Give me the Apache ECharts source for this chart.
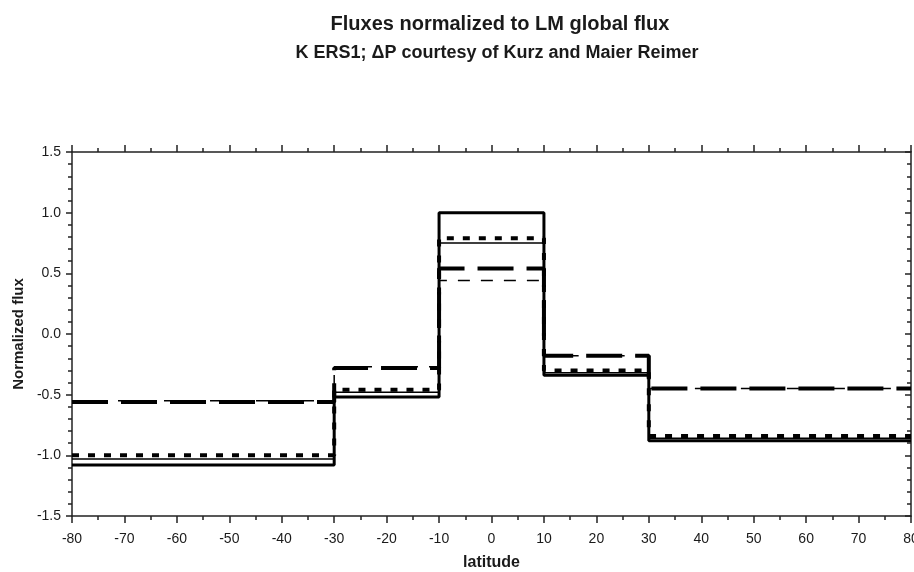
<!DOCTYPE html>
<html>
<head>
<meta charset="utf-8">
<script src="https://cdn.jsdelivr.net/npm/echarts@6/dist/echarts.min.js"></script>
<style>
  html, body { margin: 0; padding: 0; background: #fff; }
  #main { width: 914px; height: 572px; }
</style>
</head>
<body>
<div id="main"></div>
<script>
// latitude band edges, one value per band
var latEdges = [-80, -30, -10, 10, 30, 80];

var solidThick  = [-1.08, -0.52, 1.00, -0.34, -0.88];
var solidThin   = [-1.03, -0.48, 0.75, -0.32, -0.86];
var dottedThick = [-1.00, -0.46, 0.79, -0.30, -0.84];
var longDash    = [-0.56, -0.28, 0.54, -0.18, -0.45];
var shortDash   = [-0.55, -0.27, 0.44, -0.18, -0.45];

var xTicks = [-80, -70, -60, -50, -40, -30, -20, -10, 0, 10, 20, 30, 40, 50, 60, 70, 80];
var yTicks = [-1.5, -1.0, -0.5, 0.0, 0.5, 1.0, 1.5];

// step data: value of band i holds from edge i to edge i+1
function bands(vals) {
    var pts = [];
    for (var i = 0; i < vals.length; i++) {
        pts.push([latEdges[i], vals[i]]);
    }
    pts.push([latEdges[latEdges.length - 1], vals[vals.length - 1]]);
    return pts;
}

function stepSeries(name, vals, width, type) {
    return {
        name: name,
        type: 'line',
        step: 'end',
        showSymbol: false,
        silent: true,
        data: bands(vals),
        lineStyle: { color: '#000', width: width, type: type, cap: 'butt' }
    };
}

var font = '"Liberation Sans", Arial, sans-serif';
var axisColor = '#222';

function frameAxis(extra) {
    var ax = {
        type: 'value',
        axisLine: { show: true, onZero: false, lineStyle: { color: axisColor, width: 1.5 } },
        axisTick: { show: true, inside: false, length: 7, lineStyle: { color: axisColor, width: 1.5 } },
        axisLabel: { show: false },
        splitLine: { show: false }
    };
    for (var k in extra) ax[k] = extra[k];
    return ax;
}

var myChart = echarts.init(document.getElementById('main'));

var option = {
    backgroundColor: '#fff',
    animation: false,
    title: [{
        text: 'Fluxes normalized to LM global flux',
        left: 495,
        top: 9,
        textAlign: 'center',
        textStyle: { fontFamily: font, fontSize: 20, fontWeight: 'bold', color: '#1a1a1a' }
    }, {
        text: 'K ERS1; \u0394P courtesy of Kurz and Maier Reimer',
        left: 492,
        top: 39,
        textAlign: 'center',
        textStyle: { fontFamily: font, fontSize: 18, fontWeight: 'bold', color: '#1a1a1a' }
    }],
    grid: { left: 72, right: 3, top: 152, bottom: 56, outerBoundsMode: 'none', containLabel: false },
    xAxis: [
        frameAxis({
            position: 'bottom',
            min: xTicks[0],
            max: xTicks[xTicks.length - 1],
            interval: 10,
            name: 'latitude',
            nameLocation: 'middle',
            nameGap: 39,
            nameTextStyle: { fontFamily: font, fontSize: 16, fontWeight: 'bold', color: '#1a1a1a' },
            minorTick: { show: true, splitNumber: 2, length: 4, lineStyle: { color: axisColor, width: 1.5 } },
            axisLabel: { show: true, fontFamily: font, fontSize: 14, color: '#1a1a1a', margin: 16 }
        }),
        frameAxis({
            position: 'top',
            min: xTicks[0],
            max: xTicks[xTicks.length - 1],
            interval: 10,
            minorTick: { show: true, splitNumber: 2, length: 4, lineStyle: { color: axisColor, width: 1.5 } }
        })
    ],
    yAxis: [
        frameAxis({
            position: 'left',
            min: yTicks[0],
            max: yTicks[yTicks.length - 1],
            interval: 0.5,
            name: 'Normalized flux',
            nameLocation: 'middle',
            nameGap: 46,
            nameTextStyle: { fontFamily: font, fontSize: 15, fontWeight: 'bold', color: '#1a1a1a' },
            axisTick: { show: true, inside: false, length: 6, lineStyle: { color: axisColor, width: 1.5 } },
            minorTick: { show: true, splitNumber: 5, length: 4, lineStyle: { color: axisColor, width: 1.5 } },
            axisLabel: {
                show: true, fontFamily: font, fontSize: 14, color: '#1a1a1a', margin: 11,
                formatter: function (v) { return v.toFixed(1); }
            }
        }),
        frameAxis({
            position: 'right',
            min: yTicks[0],
            max: yTicks[yTicks.length - 1],
            interval: 0.5,
            axisTick: { show: true, inside: true, length: 6, lineStyle: { color: axisColor, width: 1.5 } },
            minorTick: { show: true, splitNumber: 5, length: 4, lineStyle: { color: axisColor, width: 1.5 } }
        })
    ],
    series: [
        stepSeries('thick solid', solidThick, 3, 'solid'),
        stepSeries('thin solid', solidThin, 1.5, 'solid'),
        stepSeries('dotted', dottedThick, 4, [7, 9]),
        stepSeries('long dash', longDash, 4, [36, 13]),
        stepSeries('short dash', shortDash, 1.5, [12, 11])
    ]
};

myChart.setOption(option);
</script>
</body>
</html>
